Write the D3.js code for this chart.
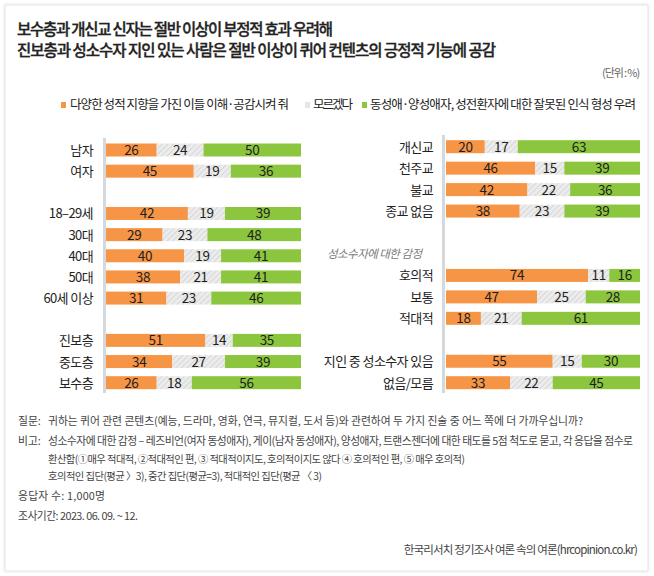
<!DOCTYPE html>
<html><head><meta charset="utf-8">
<script src="https://cdn.jsdelivr.net/npm/d3@7/dist/d3.min.js"></script>
<style>
html,body{margin:0;padding:0;background:#fff;}
svg{display:block;font-family:"Noto Sans CJK KR","Noto Sans",sans-serif;}
</style></head>
<body><svg id="c" width="654" height="576"></svg>
<script>
// ---------- data ----------
const titleLines = ["보수층과 개신교 신자는 절반 이상이 부정적 효과 우려해",
                    "진보층과 성소수자 지인 있는 사람은 절반 이상이 퀴어 컨텐츠의 긍정적 기능에 공감"];
const unitLabel = "(단위 : %)";
const seriesNames = ["다양한 성적 지향을 가진 이들 이해·공감시켜 줘", "모르겠다",
                     "동성애·양성애자, 성전환자에 대한 잘못된 인식 형성 우려"];
// left panel (groups separated by blank rows)
const leftGroups = [["남자","여자"],["18–29세","30대","40대","50대","60세 이상"],["진보층","중도층","보수층"]];
const leftPositive = [26,45,42,29,40,38,31,51,34,26];
const leftUnknown  = [24,19,19,23,19,21,23,14,27,18];
const leftNegative = [50,36,39,48,41,41,46,35,39,56];
// right panel
const rightGroups = [["개신교","천주교","불교","종교 없음"],["호의적","보통","적대적"],["지인 중 성소수자 있음","없음/모름"]];
const rightSectionLabel = "성소수자에 대한 감정";   // heads the 2nd right group
const rightPositive = [20,46,42,38,74,47,18,55,33];
const rightUnknown  = [17,15,22,23,11,25,21,15,22];
const rightNegative = [63,39,36,39,16,28,61,30,45];
const footnotes = [
  {head:"질문:", lines:["귀하는 퀴어 관련 콘텐츠(예능, 드라마, 영화, 연극, 뮤지컬, 도서 등)와 관련하여 두 가지 진술 중 어느 쪽에 더 가까우십니까?"]},
  {head:"비고:", lines:["성소수자에 대한 감정 – 레즈비언(여자 동성애자), 게이(남자 동성애자), 양성애자, 트랜스젠더에 대한 태도를 5점 척도로 묻고, 각 응답을 점수로",
                      "환산함(①매우 적대적, ②적대적인 편, ③ 적대적이지도, 호의적이지도 않다 ④ 호의적인 편, ⑤ 매우 호의적)",
                      "호의적인 집단(평균 〉3),  중간 집단(평균=3),  적대적인 집단(평균 〈 3)"]},
  {head:"응답자 수: 1,000명", lines:[]},
  {head:"조사기간: 2023. 06. 09.  ~ 12.", lines:[]}
];
const sourceLabel = "한국리서치 정기조사 여론 속의 여론(hrcopinion.co.kr)";

// ---------- setup ----------
const colors = ["#f79546", "url(#hatch)", "#8cc63f"];
const legendSwatch = ["#f79546", "#e6e6e6", "#8cc63f"];
const svg = d3.select("#c");
const defs = svg.append("defs");
const pat = defs.append("pattern").attr("id","hatch").attr("patternUnits","userSpaceOnUse")
  .attr("width",4).attr("height",4).attr("patternTransform","rotate(45)");
pat.append("rect").attr("width",4).attr("height",4).attr("fill","#ececec");
pat.append("line").attr("x1",0).attr("y1",0).attr("x2",0).attr("y2",4).attr("stroke","#d2d2d2").attr("stroke-width",1.6);
const flt = defs.append("filter").attr("id","sh").attr("x","-5%").attr("y","-5%").attr("width","110%").attr("height","110%");
flt.append("feDropShadow").attr("dx",0).attr("dy",0).attr("stdDeviation",1.5).attr("flood-color","#000").attr("flood-opacity",0.12);

svg.append("rect").attr("x",5).attr("y",5).attr("width",643).attr("height",566)
  .attr("fill","#fff").attr("stroke","#e4e4e4").attr("stroke-width",1).attr("filter","url(#sh)");

// helper: fit text to a target width via letter-spacing
function fit(sel, target){
  sel.each(function(){
    const n = this.getNumberOfChars();
    const w = this.getComputedTextLength();
    if(n>1) d3.select(this).attr("letter-spacing", ((target - w)/(n-1)).toFixed(3));
  });
  return sel;
}

// title
titleLines.forEach((t,i)=>{
  const el = svg.append("text").attr("x",17).attr("y",35+i*20.5).attr("font-size",15.5).attr("font-weight",500)
    .attr("fill","#222").attr("stroke","#222").attr("stroke-width",0.35).text(t);
  fit(el, i===0 ? 316 : 479);
});
fit(svg.append("text").attr("x",639).attr("y",77).attr("text-anchor","end").attr("font-size",11)
  .attr("fill","#666").text(unitLabel), 38);

// legend
const legendPos = [{sx:61, tx:70, tw:219},{sx:305, tx:313, tw:40},{sx:362, tx:370, tw:266}];
seriesNames.forEach((s,i)=>{
  const p = legendPos[i];
  svg.append("rect").attr("x",p.sx).attr("y",102).attr("width",5).attr("height",6).attr("fill",legendSwatch[i]);
  fit(svg.append("text").attr("x",p.tx).attr("y",109).attr("font-size",12.5).attr("fill","#222").text(s), p.tw);
});

// panels
function buildSlots(groups, header){
  const slots=[];
  groups.forEach((g,gi)=>{
    if(gi>0) slots.push("__gap"+gi);
    if(header && header.group===gi) slots.push("__header");
    g.forEach(c=>slots.push(c));
  });
  return slots;
}
function panel(groups, pos, unk, neg, opt){
  const slots = buildSlots(groups, opt.header);
  const cats = groups.flat();
  const y = d3.scalePoint().domain(slots).range([opt.y0, opt.y1]);
  const g = svg.append("g");
  g.append("line").attr("x1",opt.axisX).attr("x2",opt.axisX).attr("y1",opt.axisTop).attr("y2",393)
    .attr("stroke","#d5d9de").attr("stroke-width",3);
  const bh = 13;
  cats.forEach((c,i)=>{
    const vals = [pos[i], unk[i], neg[i]];
    const total = d3.sum(vals);
    const x = d3.scaleLinear().domain([0,total]).range([opt.x0, opt.x1]);
    let acc = 0;
    const cy = y(c);
    vals.forEach((v,k)=>{
      const a = x(acc), b = x(acc+v);
      g.append("rect").attr("x",a).attr("y",cy-bh/2).attr("width",b-a).attr("height",bh).attr("fill",colors[k]);
      g.append("text").attr("x",(a+b)/2).attr("y",cy+5).attr("text-anchor","middle")
        .attr("font-size",13.5).attr("fill","#1e1e1e").attr("letter-spacing",-0.3).text(v);
      acc += v;
    });
    g.append("text").attr("x",opt.labelX).attr("y",cy+5).attr("text-anchor","end")
      .attr("font-size",13).attr("fill","#222").attr("letter-spacing",-0.6).text(c);
  });
  if(opt.header){
    fit(g.append("text").attr("x",opt.header.x).attr("y",y("__header")+4).attr("font-size",11.5)
      .attr("font-style","italic").attr("fill","#7a7a7a").text(opt.header.label), opt.header.w);
  }
  return y;
}
panel(leftGroups, leftPositive, leftUnknown, leftNegative,
  {x0:106, x1:301, y0:150, y1:382.7, axisX:104.5, axisTop:138, labelX:93});
panel(rightGroups, rightPositive, rightUnknown, rightNegative,
  {x0:446, x1:640, y0:146.7, y1:382.7, axisX:443.5, axisTop:135, labelX:433,
   header:{group:1, label:rightSectionLabel, x:327, w:95}});

// footnotes
const lineTargets = [[535],[585,417,274],[],[]];
let fy = 425;
footnotes.forEach((f,fi)=>{
  const h = svg.append("text").attr("x",18).attr("y",fy).attr("font-size",10.8).attr("fill","#444").text(f.head);
  if(fi===2) fit(h, 87);
  if(fi===3) fit(h, 120);
  f.lines.forEach((l,li)=>{
    const t = svg.append("text").attr("x",48).attr("y",fy).attr("font-size",fi===1 && li>0 ? 10.3 : 10.8)
      .attr("fill","#444").text(l);
    fit(t, lineTargets[fi][li]);
    fy += 17.5;
  });
  if(f.lines.length===0) fy += 20;
  else fy += 2.5;
});
fit(svg.append("text").attr("x",637).attr("y",554).attr("text-anchor","end").attr("font-size",11.5)
  .attr("fill","#444").text(sourceLabel), 234);
</script></body></html>
